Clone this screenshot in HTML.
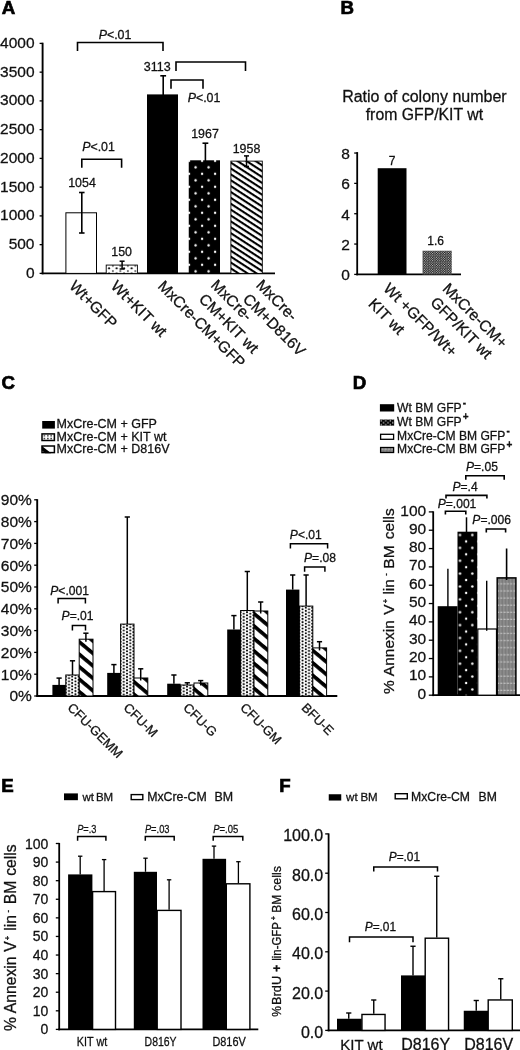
<!DOCTYPE html>
<html lang="en"><head><meta charset="utf-8"><title>Figure</title>
<style>html,body{margin:0;padding:0;background:#fff}svg{display:block;filter:blur(0.4px)}text{font-family:'Liberation Sans', Arial, sans-serif;fill:#111;stroke:#111;stroke-width:.28px}</style>
</head><body>
<svg width="520" height="1050" viewBox="0 0 520 1050">
<defs>
<pattern id="pA2" width="7.5" height="5.2" patternUnits="userSpaceOnUse" x="105.35" y="264.7"><rect width="7.5" height="5.2" fill="#fff"/><circle cx="3.75" cy="3.6" r="1.05" fill="#111"/><circle cx="0" cy="1.15" r="0.95" fill="#333"/><circle cx="7.5" cy="1.15" r="0.95" fill="#333"/><circle cx="0" cy="6.35" r="0.95" fill="#333"/><circle cx="7.5" cy="6.35" r="0.95" fill="#333"/></pattern>
<pattern id="pA4" width="13" height="13" patternUnits="userSpaceOnUse" x="189.1" y="160.8"><rect width="13" height="13" fill="#000"/><circle cx="6.5" cy="6.5" r="1.2" fill="#fff"/><circle cx="0" cy="0" r="1.2" fill="#fff"/><circle cx="13" cy="0" r="1.2" fill="#fff"/><circle cx="0" cy="13" r="1.2" fill="#fff"/><circle cx="13" cy="13" r="1.2" fill="#fff"/></pattern>
<pattern id="pA5" width="4.93" height="4.93" patternUnits="userSpaceOnUse" patternTransform="translate(231 161.5) rotate(33)"><rect width="4.93" height="4.93" fill="#fff"/><rect y="-0.1" width="4.93" height="2.2" fill="#000"/></pattern>
<pattern id="pB2" width="2.4" height="2.4" patternUnits="userSpaceOnUse" x="422.5" y="250.6"><rect width="2.4" height="2.4" fill="#1a1a1a"/><circle cx="0.6" cy="0.6" r="0.55" fill="#e8e8e8"/><circle cx="1.8" cy="1.8" r="0.55" fill="#e8e8e8"/></pattern>
<pattern id="pC2" width="4" height="4" patternUnits="userSpaceOnUse"><rect width="4" height="4" fill="#fff"/><circle cx="1" cy="1" r="0.95" fill="#000"/><circle cx="3" cy="3" r="0.95" fill="#000"/></pattern>
<pattern id="pC2L" width="3.4" height="2.8" patternUnits="userSpaceOnUse" x="42.7" y="434.45"><rect width="3.4" height="2.8" fill="#fff"/><rect x="1.0" y="0.75" width="1.4" height="1.3" fill="#000"/></pattern>
<pattern id="pC3" width="8" height="8" patternUnits="userSpaceOnUse" patternTransform="rotate(45)"><rect width="8" height="8" fill="#fff"/><rect width="8" height="3.6" fill="#000"/></pattern>
<pattern id="pD2" width="12.3" height="12.87" patternUnits="userSpaceOnUse" x="453.85" y="528.57"><rect width="12.3" height="12.87" fill="#000"/><circle cx="6.15" cy="6.43" r="1.2" fill="#fff"/><circle cx="12.3" cy="12.87" r="1.2" fill="#fff"/><circle cx="0" cy="12.87" r="1.2" fill="#fff"/><circle cx="0" cy="0" r="1.2" fill="#fff"/><circle cx="12.3" cy="0" r="1.2" fill="#fff"/></pattern>
<pattern id="pD2L" width="4.6" height="4" patternUnits="userSpaceOnUse" x="380" y="419.5"><rect width="4.6" height="4" fill="#000"/><circle cx="1.2" cy="1.2" r="0.8" fill="#ddd"/><circle cx="3.5" cy="3.2" r="0.8" fill="#ddd"/></pattern>
<pattern id="pD4" width="3.3" height="7.1" patternUnits="userSpaceOnUse" x="496.5" y="580"><rect width="3.3" height="7.1" fill="#7c7c7c"/><rect width="1.6" height="7.1" fill="#8c8c8c"/><rect x="0.4" y="3.3" width="2.2" height="1" fill="#c8c8c8"/></pattern>
<pattern id="pc2_0" width="6.4" height="3.2" patternUnits="userSpaceOnUse" x="65.80" y="675.00"><rect width="6.4" height="3.2" fill="#fff"/><circle cx="0" cy="1.6" r="1.0" fill="#000"/><circle cx="6.4" cy="1.6" r="1.0" fill="#000"/><circle cx="3.2" cy="0" r="1.0" fill="#000"/><circle cx="3.2" cy="3.2" r="1.0" fill="#000"/></pattern>
<pattern id="pc3_0" width="9.54" height="9.54" patternUnits="userSpaceOnUse" patternTransform="translate(79.20 639.40) rotate(40)"><rect width="9.54" height="9.54" fill="#fff"/><rect y="0" width="9.54" height="3.7" fill="#000"/></pattern>
<pattern id="pc2_1" width="6.4" height="3.2" patternUnits="userSpaceOnUse" x="120.60" y="624.10"><rect width="6.4" height="3.2" fill="#fff"/><circle cx="0" cy="1.6" r="1.0" fill="#000"/><circle cx="6.4" cy="1.6" r="1.0" fill="#000"/><circle cx="3.2" cy="0" r="1.0" fill="#000"/><circle cx="3.2" cy="3.2" r="1.0" fill="#000"/></pattern>
<pattern id="pc3_1" width="9.54" height="9.54" patternUnits="userSpaceOnUse" patternTransform="translate(132.50 678.20) rotate(40)"><rect width="9.54" height="9.54" fill="#fff"/><rect y="0" width="9.54" height="3.7" fill="#000"/></pattern>
<pattern id="pc2_2" width="6.4" height="3.2" patternUnits="userSpaceOnUse" x="180.60" y="685.00"><rect width="6.4" height="3.2" fill="#fff"/><circle cx="0" cy="1.6" r="1.0" fill="#000"/><circle cx="6.4" cy="1.6" r="1.0" fill="#000"/><circle cx="3.2" cy="0" r="1.0" fill="#000"/><circle cx="3.2" cy="3.2" r="1.0" fill="#000"/></pattern>
<pattern id="pc3_2" width="9.54" height="9.54" patternUnits="userSpaceOnUse" patternTransform="translate(190.10 683.20) rotate(40)"><rect width="9.54" height="9.54" fill="#fff"/><rect y="0" width="9.54" height="3.7" fill="#000"/></pattern>
<pattern id="pc2_3" width="6.4" height="3.2" patternUnits="userSpaceOnUse" x="240.60" y="610.50"><rect width="6.4" height="3.2" fill="#fff"/><circle cx="0" cy="1.6" r="1.0" fill="#000"/><circle cx="6.4" cy="1.6" r="1.0" fill="#000"/><circle cx="3.2" cy="0" r="1.0" fill="#000"/><circle cx="3.2" cy="3.2" r="1.0" fill="#000"/></pattern>
<pattern id="pc3_3" width="9.54" height="9.54" patternUnits="userSpaceOnUse" patternTransform="translate(254.00 611.20) rotate(40)"><rect width="9.54" height="9.54" fill="#fff"/><rect y="0" width="9.54" height="3.7" fill="#000"/></pattern>
<pattern id="pc2_4" width="6.4" height="3.2" patternUnits="userSpaceOnUse" x="299.40" y="606.10"><rect width="6.4" height="3.2" fill="#fff"/><circle cx="0" cy="1.6" r="1.0" fill="#000"/><circle cx="6.4" cy="1.6" r="1.0" fill="#000"/><circle cx="3.2" cy="0" r="1.0" fill="#000"/><circle cx="3.2" cy="3.2" r="1.0" fill="#000"/></pattern>
<pattern id="pc3_4" width="9.54" height="9.54" patternUnits="userSpaceOnUse" patternTransform="translate(312.80 648.10) rotate(40)"><rect width="9.54" height="9.54" fill="#fff"/><rect y="0" width="9.54" height="3.7" fill="#000"/></pattern>
</defs>
<rect width="520" height="1050" fill="#fff"/>
<text x="1.7" y="13.8" font-size="18.7" text-anchor="start" font-weight="bold" style="stroke:#000;stroke-width:0.7px;fill:#000">A</text>
<text x="340.5" y="13.8" font-size="18.7" text-anchor="start" font-weight="bold" style="stroke:#000;stroke-width:0.7px;fill:#000">B</text>
<text x="1.4" y="389" font-size="18.7" text-anchor="start" font-weight="bold" style="stroke:#000;stroke-width:0.7px;fill:#000">C</text>
<text x="352.85" y="388.8" font-size="18.7" text-anchor="start" font-weight="bold" style="stroke:#000;stroke-width:0.7px;fill:#000">D</text>
<text x="1.3" y="791.8" font-size="18.7" text-anchor="start" font-weight="bold" style="stroke:#000;stroke-width:0.7px;fill:#000">E</text>
<text x="279.2" y="791.6" font-size="18.7" text-anchor="start" font-weight="bold" style="stroke:#000;stroke-width:0.7px;fill:#000">F</text>
<line x1="42.6" y1="42.699999999999996" x2="42.6" y2="274.29999999999995" stroke="#000" stroke-width="1.9"/>
<line x1="41.7" y1="273.4" x2="275" y2="273.4" stroke="#000" stroke-width="1.8"/>
<line x1="39.6" y1="273.4" x2="42.6" y2="273.4" stroke="#000" stroke-width="1.3"/>
<text x="34.5" y="277.79999999999995" font-size="15.5" text-anchor="end">0</text>
<line x1="39.6" y1="244.64999999999998" x2="42.6" y2="244.64999999999998" stroke="#000" stroke-width="1.3"/>
<text x="34.5" y="249.04999999999998" font-size="15.5" text-anchor="end">500</text>
<line x1="39.6" y1="215.89999999999998" x2="42.6" y2="215.89999999999998" stroke="#000" stroke-width="1.3"/>
<text x="34.5" y="220.29999999999998" font-size="15.5" text-anchor="end">1000</text>
<line x1="39.6" y1="187.14999999999998" x2="42.6" y2="187.14999999999998" stroke="#000" stroke-width="1.3"/>
<text x="34.5" y="191.54999999999998" font-size="15.5" text-anchor="end">1500</text>
<line x1="39.6" y1="158.39999999999998" x2="42.6" y2="158.39999999999998" stroke="#000" stroke-width="1.3"/>
<text x="34.5" y="162.79999999999998" font-size="15.5" text-anchor="end">2000</text>
<line x1="39.6" y1="129.64999999999998" x2="42.6" y2="129.64999999999998" stroke="#000" stroke-width="1.3"/>
<text x="34.5" y="134.04999999999998" font-size="15.5" text-anchor="end">2500</text>
<line x1="39.6" y1="100.89999999999998" x2="42.6" y2="100.89999999999998" stroke="#000" stroke-width="1.3"/>
<text x="34.5" y="105.29999999999998" font-size="15.5" text-anchor="end">3000</text>
<line x1="39.6" y1="72.14999999999998" x2="42.6" y2="72.14999999999998" stroke="#000" stroke-width="1.3"/>
<text x="34.5" y="76.54999999999998" font-size="15.5" text-anchor="end">3500</text>
<line x1="39.6" y1="43.39999999999998" x2="42.6" y2="43.39999999999998" stroke="#000" stroke-width="1.3"/>
<text x="34.5" y="47.799999999999976" font-size="15.5" text-anchor="end">4000</text>
<rect x="65.90" y="212.79" width="30.60" height="60.61" fill="#fff" stroke="#000" stroke-width="1"/>
<rect x="106.20" y="265.07" width="31.20" height="8.32" fill="url(#pA2)" stroke="#000" stroke-width="0.9"/>
<rect x="147.00" y="94.40" width="31.00" height="179.00" fill="#000"/>
<rect x="188.75" y="160.30" width="31.25" height="113.10" fill="url(#pA4)"/>
<rect x="230.90" y="161.12" width="31.40" height="112.28" fill="url(#pA5)" stroke="#000" stroke-width="0.9"/>
<line x1="81.8" y1="192.5" x2="81.8" y2="233" stroke="#000" stroke-width="1.6"/>
<line x1="79.05" y1="192.5" x2="84.55" y2="192.5" stroke="#000" stroke-width="1.6"/>
<line x1="79.05" y1="233" x2="84.55" y2="233" stroke="#000" stroke-width="1.6"/>
<line x1="122.1" y1="261.2" x2="122.1" y2="269" stroke="#000" stroke-width="1.5"/>
<line x1="119.6" y1="261.2" x2="124.6" y2="261.2" stroke="#000" stroke-width="1.5"/>
<line x1="119.6" y1="269" x2="124.6" y2="269" stroke="#000" stroke-width="1.5"/>
<line x1="163.2" y1="75.8" x2="163.2" y2="95" stroke="#000" stroke-width="1.6"/>
<line x1="160.29999999999998" y1="75.8" x2="166.1" y2="75.8" stroke="#000" stroke-width="1.6"/>
<line x1="205.4" y1="143.2" x2="205.4" y2="161" stroke="#000" stroke-width="1.6"/>
<line x1="202.5" y1="143.2" x2="208.3" y2="143.2" stroke="#000" stroke-width="1.6"/>
<line x1="246.5" y1="155.9" x2="246.5" y2="166.4" stroke="#000" stroke-width="1.5"/>
<line x1="244.0" y1="155.9" x2="249.0" y2="155.9" stroke="#000" stroke-width="1.5"/>
<line x1="244.0" y1="166.4" x2="249.0" y2="166.4" stroke="#000" stroke-width="1.5"/>
<text x="82" y="186.7" font-size="12.4" text-anchor="middle">1054</text>
<text x="121.6" y="256.3" font-size="12.4" text-anchor="middle">150</text>
<text x="157.2" y="70.5" font-size="12.5" text-anchor="middle">3113</text>
<text x="205" y="138" font-size="12.4" text-anchor="middle">1967</text>
<text x="246.5" y="152.5" font-size="12.4" text-anchor="middle">1958</text>
<path d="M77.5 51V42.5H163V51" fill="none" stroke="#000" stroke-width="1.6"/>
<text x="115" y="38.5" font-size="12.4" text-anchor="middle"><tspan font-style="italic">P</tspan>&lt;.01</text>
<path d="M176 71V62H245.5V71" fill="none" stroke="#000" stroke-width="1.6"/>
<path d="M171 88.75V80H203V88.75" fill="none" stroke="#000" stroke-width="1.6"/>
<text x="204" y="102" font-size="12.4" text-anchor="middle"><tspan font-style="italic">P</tspan>&lt;.01</text>
<path d="M81.8 167.8V159.2H121.6V167.8" fill="none" stroke="#000" stroke-width="1.6"/>
<text x="98.5" y="151.2" font-size="12.4" text-anchor="middle"><tspan font-style="italic">P</tspan>&lt;.01</text>
<text x="68.5" y="287" font-size="15.5" text-anchor="start" transform="rotate(45 68.5 287)">Wt+GFP</text>
<text x="110" y="287" font-size="15.5" text-anchor="start" transform="rotate(45 110 287)">Wt+KIT wt</text>
<text x="157" y="287" font-size="15.5" text-anchor="start" transform="rotate(45 157 287)">MxCre-CM+GFP</text>
<text x="210" y="286" font-size="15.5" text-anchor="start" transform="rotate(45 210 286)">MxCre-</text>
<text x="198" y="300" font-size="15.5" text-anchor="start" transform="rotate(45 198 300)">CM+KIT wt</text>
<text x="255.2" y="286" font-size="15.5" text-anchor="start" transform="rotate(45 255.2 286)">MxCre-</text>
<text x="242" y="300" font-size="15.5" text-anchor="start" transform="rotate(45 242 300)">CM+D816V</text>
<text x="424.4" y="102.1" font-size="16" text-anchor="middle">Ratio of colony number</text>
<text x="424.4" y="119.9" font-size="15.8" text-anchor="middle">from GFP/KIT wt</text>
<line x1="357.2" y1="152.1" x2="357.2" y2="275.29999999999995" stroke="#000" stroke-width="1.8"/>
<line x1="356.3" y1="274.4" x2="461" y2="274.4" stroke="#000" stroke-width="1.8"/>
<line x1="354.2" y1="274.4" x2="357.2" y2="274.4" stroke="#000" stroke-width="1.3"/>
<text x="349.8" y="280.2" font-size="15.5" text-anchor="end">0</text>
<line x1="354.2" y1="244.05999999999997" x2="357.2" y2="244.05999999999997" stroke="#000" stroke-width="1.3"/>
<text x="349.8" y="249.85999999999999" font-size="15.5" text-anchor="end">2</text>
<line x1="354.2" y1="213.71999999999997" x2="357.2" y2="213.71999999999997" stroke="#000" stroke-width="1.3"/>
<text x="349.8" y="219.51999999999998" font-size="15.5" text-anchor="end">4</text>
<line x1="354.2" y1="183.38" x2="357.2" y2="183.38" stroke="#000" stroke-width="1.3"/>
<text x="349.8" y="189.18" font-size="15.5" text-anchor="end">6</text>
<line x1="354.2" y1="153.03999999999996" x2="357.2" y2="153.03999999999996" stroke="#000" stroke-width="1.3"/>
<text x="349.8" y="158.83999999999997" font-size="15.5" text-anchor="end">8</text>
<rect x="377.70" y="168.21" width="28.80" height="106.19" fill="#000"/>
<rect x="422.50" y="250.70" width="29.30" height="23.70" fill="url(#pB2)"/>
<text x="392" y="164.5" font-size="12" text-anchor="middle">7</text>
<text x="435.6" y="244.6" font-size="12" text-anchor="middle">1.6</text>
<text x="382.6" y="289.5" font-size="15.5" text-anchor="start" transform="rotate(45 382.6 289.5)">Wt +GFP/Wt+</text>
<text x="367.5" y="304.8" font-size="15.5" text-anchor="start" transform="rotate(45 367.5 304.8)">KIT wt</text>
<text x="441.7" y="289.5" font-size="15.5" text-anchor="start" transform="rotate(45 441.7 289.5)">MxCre-CM+</text>
<text x="429.4" y="303.3" font-size="15.5" text-anchor="start" transform="rotate(45 429.4 303.3)">GFP/KIT wt</text>
<line x1="37.2" y1="499.2" x2="37.2" y2="696.9" stroke="#000" stroke-width="1.9"/>
<line x1="36.300000000000004" y1="696.0" x2="337.3" y2="696.0" stroke="#000" stroke-width="1.8"/>
<line x1="34.2" y1="696.0" x2="37.2" y2="696.0" stroke="#000" stroke-width="1.3"/>
<text x="31.9" y="701.4" font-size="15.5" text-anchor="end">0%</text>
<line x1="34.2" y1="674.2" x2="37.2" y2="674.2" stroke="#000" stroke-width="1.3"/>
<text x="31.9" y="679.6" font-size="15.5" text-anchor="end">10%</text>
<line x1="34.2" y1="652.4" x2="37.2" y2="652.4" stroke="#000" stroke-width="1.3"/>
<text x="31.9" y="657.8" font-size="15.5" text-anchor="end">20%</text>
<line x1="34.2" y1="630.6" x2="37.2" y2="630.6" stroke="#000" stroke-width="1.3"/>
<text x="31.9" y="636.0" font-size="15.5" text-anchor="end">30%</text>
<line x1="34.2" y1="608.8" x2="37.2" y2="608.8" stroke="#000" stroke-width="1.3"/>
<text x="31.9" y="614.1999999999999" font-size="15.5" text-anchor="end">40%</text>
<line x1="34.2" y1="587.0" x2="37.2" y2="587.0" stroke="#000" stroke-width="1.3"/>
<text x="31.9" y="592.4" font-size="15.5" text-anchor="end">50%</text>
<line x1="34.2" y1="565.2" x2="37.2" y2="565.2" stroke="#000" stroke-width="1.3"/>
<text x="31.9" y="570.6" font-size="15.5" text-anchor="end">60%</text>
<line x1="34.2" y1="543.4" x2="37.2" y2="543.4" stroke="#000" stroke-width="1.3"/>
<text x="31.9" y="548.8" font-size="15.5" text-anchor="end">70%</text>
<line x1="34.2" y1="521.6" x2="37.2" y2="521.6" stroke="#000" stroke-width="1.3"/>
<text x="31.9" y="527.0" font-size="15.5" text-anchor="end">80%</text>
<line x1="34.2" y1="499.79999999999995" x2="37.2" y2="499.79999999999995" stroke="#000" stroke-width="1.3"/>
<text x="31.9" y="505.19999999999993" font-size="15.5" text-anchor="end">90%</text>
<rect x="52.40" y="684.90" width="13.40" height="11.10" fill="#000"/>
<line x1="59.1" y1="678.1" x2="59.1" y2="684.9" stroke="#000" stroke-width="1.5"/>
<line x1="56.5" y1="678.1" x2="61.7" y2="678.1" stroke="#000" stroke-width="1.5"/>
<rect x="65.80" y="675.00" width="13.40" height="21.00" fill="url(#pc2_0)" stroke="#000" stroke-width="1"/>
<line x1="72.5" y1="660.8" x2="72.5" y2="675" stroke="#000" stroke-width="1.5"/>
<line x1="69.9" y1="660.8" x2="75.1" y2="660.8" stroke="#000" stroke-width="1.5"/>
<rect x="79.20" y="639.20" width="13.80" height="56.80" fill="url(#pc3_0)" stroke="#000" stroke-width="1"/>
<line x1="85.9" y1="633.2" x2="85.9" y2="641.7" stroke="#000" stroke-width="1.5"/>
<line x1="83.30000000000001" y1="633.2" x2="88.5" y2="633.2" stroke="#000" stroke-width="1.5"/>
<rect x="107.20" y="672.90" width="13.40" height="23.10" fill="#000"/>
<line x1="113.9" y1="664.6" x2="113.9" y2="672.9" stroke="#000" stroke-width="1.5"/>
<line x1="111.30000000000001" y1="664.6" x2="116.5" y2="664.6" stroke="#000" stroke-width="1.5"/>
<rect x="120.60" y="624.10" width="13.40" height="71.90" fill="url(#pc2_1)" stroke="#000" stroke-width="1"/>
<line x1="127.30000000000001" y1="517" x2="127.30000000000001" y2="624.1" stroke="#000" stroke-width="1.5"/>
<line x1="124.70000000000002" y1="517" x2="129.9" y2="517" stroke="#000" stroke-width="1.5"/>
<rect x="134.00" y="678.00" width="13.80" height="18.00" fill="url(#pc3_1)" stroke="#000" stroke-width="1"/>
<line x1="140.7" y1="668.8" x2="140.7" y2="680.5" stroke="#000" stroke-width="1.5"/>
<line x1="138.1" y1="668.8" x2="143.29999999999998" y2="668.8" stroke="#000" stroke-width="1.5"/>
<rect x="167.20" y="683.70" width="13.40" height="12.30" fill="#000"/>
<line x1="173.89999999999998" y1="675" x2="173.89999999999998" y2="683.7" stroke="#000" stroke-width="1.5"/>
<line x1="171.29999999999998" y1="675" x2="176.49999999999997" y2="675" stroke="#000" stroke-width="1.5"/>
<rect x="180.60" y="685.00" width="13.40" height="11.00" fill="url(#pc2_2)" stroke="#000" stroke-width="1"/>
<line x1="187.29999999999998" y1="682.8" x2="187.29999999999998" y2="685" stroke="#000" stroke-width="1.5"/>
<line x1="184.7" y1="682.8" x2="189.89999999999998" y2="682.8" stroke="#000" stroke-width="1.5"/>
<rect x="194.00" y="683.00" width="13.80" height="13.00" fill="url(#pc3_2)" stroke="#000" stroke-width="1"/>
<line x1="200.7" y1="680.6" x2="200.7" y2="685.5" stroke="#000" stroke-width="1.5"/>
<line x1="198.1" y1="680.6" x2="203.29999999999998" y2="680.6" stroke="#000" stroke-width="1.5"/>
<rect x="227.20" y="629.50" width="13.40" height="66.50" fill="#000"/>
<line x1="233.89999999999998" y1="615.6" x2="233.89999999999998" y2="629.5" stroke="#000" stroke-width="1.5"/>
<line x1="231.29999999999998" y1="615.6" x2="236.49999999999997" y2="615.6" stroke="#000" stroke-width="1.5"/>
<rect x="240.60" y="610.50" width="13.40" height="85.50" fill="url(#pc2_3)" stroke="#000" stroke-width="1"/>
<line x1="247.29999999999998" y1="571.5" x2="247.29999999999998" y2="610.5" stroke="#000" stroke-width="1.5"/>
<line x1="244.7" y1="571.5" x2="249.89999999999998" y2="571.5" stroke="#000" stroke-width="1.5"/>
<rect x="254.00" y="611.00" width="13.80" height="85.00" fill="url(#pc3_3)" stroke="#000" stroke-width="1"/>
<line x1="260.7" y1="602" x2="260.7" y2="613.5" stroke="#000" stroke-width="1.5"/>
<line x1="258.09999999999997" y1="602" x2="263.3" y2="602" stroke="#000" stroke-width="1.5"/>
<rect x="286.00" y="589.60" width="13.40" height="106.40" fill="#000"/>
<line x1="292.7" y1="575" x2="292.7" y2="589.6" stroke="#000" stroke-width="1.5"/>
<line x1="290.09999999999997" y1="575" x2="295.3" y2="575" stroke="#000" stroke-width="1.5"/>
<rect x="299.40" y="606.10" width="13.40" height="89.90" fill="url(#pc2_4)" stroke="#000" stroke-width="1"/>
<line x1="306.09999999999997" y1="575" x2="306.09999999999997" y2="606.1" stroke="#000" stroke-width="1.5"/>
<line x1="303.49999999999994" y1="575" x2="308.7" y2="575" stroke="#000" stroke-width="1.5"/>
<rect x="312.80" y="647.90" width="13.80" height="48.10" fill="url(#pc3_4)" stroke="#000" stroke-width="1"/>
<line x1="319.5" y1="641.7" x2="319.5" y2="650.4" stroke="#000" stroke-width="1.5"/>
<line x1="316.9" y1="641.7" x2="322.1" y2="641.7" stroke="#000" stroke-width="1.5"/>
<path d="M58.1 603.4V598.6H85.4V603.4" fill="none" stroke="#000" stroke-width="1.5"/>
<text x="69.6" y="595.4" font-size="12.1" text-anchor="middle"><tspan font-style="italic">P</tspan>&lt;.001</text>
<path d="M72.4 630.5V625.6H85.5V630.5" fill="none" stroke="#000" stroke-width="1.5"/>
<text x="77.6" y="620.3" font-size="12.1" text-anchor="middle"><tspan font-style="italic">P</tspan>=.01</text>
<path d="M290.4 548.6V543.8H327.6V548.6" fill="none" stroke="#000" stroke-width="1.5"/>
<text x="305.8" y="538.9" font-size="12.1" text-anchor="middle"><tspan font-style="italic">P</tspan>&lt;.01</text>
<path d="M304.6 571.8V566.9H324.9V571.8" fill="none" stroke="#000" stroke-width="1.5"/>
<text x="320" y="562.4" font-size="12.1" text-anchor="middle"><tspan font-style="italic">P</tspan>=.08</text>
<rect x="42.20" y="421.00" width="12.70" height="7.60" fill="#000"/>
<rect x="42.00" y="433.90" width="12.40" height="6.60" fill="url(#pC2L)" stroke="#000" stroke-width="1.5"/>
<rect x="42.00" y="446.00" width="12.40" height="6.60" fill="#fff" stroke="#000" stroke-width="1.5"/>
<path d="M41.9 445.9L51.2 453.3H45.2L41.9 450.6Z" fill="#000"/>
<text x="56.6" y="428.3" font-size="12.5" text-anchor="start">MxCre-CM + GFP</text>
<text x="56.6" y="440.5" font-size="12.5" text-anchor="start">MxCre-CM + KIT wt</text>
<text x="56.6" y="453" font-size="12.5" text-anchor="start">MxCre-CM + D816V</text>
<text x="66.8" y="708.4" font-size="13" text-anchor="start" transform="rotate(45 66.8 708.4)">CFU-GEMM</text>
<text x="122.8" y="708.4" font-size="13" text-anchor="start" transform="rotate(45 122.8 708.4)">CFU-M</text>
<text x="182.6" y="708.4" font-size="13" text-anchor="start" transform="rotate(45 182.6 708.4)">CFU-G</text>
<text x="239.5" y="708.4" font-size="13" text-anchor="start" transform="rotate(45 239.5 708.4)">CFU-GM</text>
<text x="300.8" y="708.4" font-size="13" text-anchor="start" transform="rotate(45 300.8 708.4)">BFU-E</text>
<line x1="433.2" y1="511.29999999999995" x2="433.2" y2="696.1" stroke="#000" stroke-width="1.8"/>
<line x1="432.3" y1="695.2" x2="520" y2="695.2" stroke="#000" stroke-width="1.8"/>
<line x1="428.8" y1="695.2" x2="433.2" y2="695.2" stroke="#000" stroke-width="1.3"/>
<text x="426.2" y="698.8000000000001" font-size="15.5" text-anchor="end">0</text>
<line x1="428.8" y1="676.87" x2="433.2" y2="676.87" stroke="#000" stroke-width="1.3"/>
<text x="426.2" y="680.47" font-size="15.5" text-anchor="end">10</text>
<line x1="428.8" y1="658.5400000000001" x2="433.2" y2="658.5400000000001" stroke="#000" stroke-width="1.3"/>
<text x="426.2" y="662.1400000000001" font-size="15.5" text-anchor="end">20</text>
<line x1="428.8" y1="640.21" x2="433.2" y2="640.21" stroke="#000" stroke-width="1.3"/>
<text x="426.2" y="643.8100000000001" font-size="15.5" text-anchor="end">30</text>
<line x1="428.8" y1="621.8800000000001" x2="433.2" y2="621.8800000000001" stroke="#000" stroke-width="1.3"/>
<text x="426.2" y="625.4800000000001" font-size="15.5" text-anchor="end">40</text>
<line x1="428.8" y1="603.5500000000001" x2="433.2" y2="603.5500000000001" stroke="#000" stroke-width="1.3"/>
<text x="426.2" y="607.1500000000001" font-size="15.5" text-anchor="end">50</text>
<line x1="428.8" y1="585.22" x2="433.2" y2="585.22" stroke="#000" stroke-width="1.3"/>
<text x="426.2" y="588.82" font-size="15.5" text-anchor="end">60</text>
<line x1="428.8" y1="566.8900000000001" x2="433.2" y2="566.8900000000001" stroke="#000" stroke-width="1.3"/>
<text x="426.2" y="570.4900000000001" font-size="15.5" text-anchor="end">70</text>
<line x1="428.8" y1="548.5600000000001" x2="433.2" y2="548.5600000000001" stroke="#000" stroke-width="1.3"/>
<text x="426.2" y="552.1600000000001" font-size="15.5" text-anchor="end">80</text>
<line x1="428.8" y1="530.23" x2="433.2" y2="530.23" stroke="#000" stroke-width="1.3"/>
<text x="426.2" y="533.83" font-size="15.5" text-anchor="end">90</text>
<line x1="428.8" y1="511.9000000000001" x2="433.2" y2="511.9000000000001" stroke="#000" stroke-width="1.3"/>
<text x="426.2" y="515.5000000000001" font-size="15.5" text-anchor="end">100</text>
<rect x="437.70" y="606.20" width="19.80" height="89.00" fill="#000"/>
<rect x="457.50" y="531.70" width="19.80" height="163.50" fill="url(#pD2)"/>
<rect x="477.80" y="629.00" width="18.70" height="66.20" fill="#fff" stroke="#000" stroke-width="1.2"/>
<rect x="497.20" y="577.90" width="18.70" height="117.30" fill="url(#pD4)" stroke="#000" stroke-width="1.5"/>
<line x1="447.9" y1="568.8" x2="447.9" y2="607" stroke="#000" stroke-width="1.4"/>
<line x1="466.5" y1="517.3" x2="466.5" y2="533" stroke="#000" stroke-width="1.5"/>
<line x1="486.7" y1="580.8" x2="486.7" y2="630.8" stroke="#000" stroke-width="1.4"/>
<line x1="506.6" y1="548.5" x2="506.6" y2="580" stroke="#000" stroke-width="1.6"/>
<text x="481.9" y="471.3" font-size="12.1" text-anchor="middle"><tspan font-style="italic">P</tspan>=.05</text>
<path d="M465.8 479.8V475.8H504.2V479.8" fill="none" stroke="#000" stroke-width="1.6"/>
<text x="465" y="490.6" font-size="12.1" text-anchor="middle"><tspan font-style="italic">P</tspan>=.4</text>
<path d="M446 498.6V495.4H486.9V498.6" fill="none" stroke="#000" stroke-width="1.6"/>
<text x="457" y="507.9" font-size="12.1" text-anchor="middle"><tspan font-style="italic">P</tspan>=.001</text>
<path d="M445.4 514.6V511.3H465.8V514.6" fill="none" stroke="#000" stroke-width="1.6"/>
<text x="491.7" y="524.2" font-size="12.1" text-anchor="middle"><tspan font-style="italic">P</tspan>=.006</text>
<path d="M486.3 532.4V529H505.6V532.4" fill="none" stroke="#000" stroke-width="1.6"/>
<rect x="379.90" y="404.20" width="14.30" height="7.30" fill="#000"/>
<rect x="379.90" y="419.50" width="14.30" height="6.20" fill="url(#pD2L)"/>
<rect x="380.60" y="434.30" width="13.00" height="5.00" fill="#fff" stroke="#000" stroke-width="1.3"/>
<rect x="380.60" y="447.50" width="13.00" height="5.00" fill="url(#pD4)" stroke="#000" stroke-width="1.3"/>
<text x="397.1" y="411.5" font-size="12.1">Wt BM GFP<tspan dx="1.2" dy="-5.8" font-size="10" font-weight="bold">-</tspan></text>
<text x="397.1" y="426" font-size="12.1">Wt BM GFP<tspan dx="1.2" dy="-5.8" font-size="10" font-weight="bold">+</tspan></text>
<text x="397.1" y="439.8" font-size="12.1">MxCre-CM BM GFP<tspan dx="1.2" dy="-5.8" font-size="10" font-weight="bold">-</tspan></text>
<text x="397.1" y="453.4" font-size="12.1">MxCre-CM BM GFP<tspan dx="1.2" dy="-5.8" font-size="10" font-weight="bold">+</tspan></text>
<g transform="translate(394 693.2) rotate(-90)" font-size="15.50">
<text x="-0.90" y="0">%</text>
<text x="17.00" y="0">Annexin</text>
<text x="78.40" y="0">V</text>
<text x="98.60" y="0">lin</text>
<text x="124.50" y="0">BM</text>
<text x="153.90" y="0">cells</text>
<text x="92.20" y="-6" font-size="7.5" text-anchor="middle" font-weight="bold">+</text>
<text x="118.70" y="-5.9" font-size="7.5" text-anchor="middle" font-weight="bold">-</text>
</g>
<line x1="59.2" y1="842.9" x2="59.2" y2="1030.3000000000002" stroke="#000" stroke-width="1.8"/>
<line x1="58.300000000000004" y1="1029.4" x2="258.3" y2="1029.4" stroke="#000" stroke-width="1.8"/>
<line x1="55.800000000000004" y1="1029.4" x2="59.2" y2="1029.4" stroke="#000" stroke-width="1.3"/>
<text x="48.4" y="1034.4" font-size="14" text-anchor="end">0</text>
<line x1="55.800000000000004" y1="1010.8100000000001" x2="59.2" y2="1010.8100000000001" stroke="#000" stroke-width="1.3"/>
<text x="48.4" y="1015.8100000000001" font-size="14" text-anchor="end">10</text>
<line x1="55.800000000000004" y1="992.2200000000001" x2="59.2" y2="992.2200000000001" stroke="#000" stroke-width="1.3"/>
<text x="48.4" y="997.2200000000001" font-size="14" text-anchor="end">20</text>
<line x1="55.800000000000004" y1="973.6300000000001" x2="59.2" y2="973.6300000000001" stroke="#000" stroke-width="1.3"/>
<text x="48.4" y="978.6300000000001" font-size="14" text-anchor="end">30</text>
<line x1="55.800000000000004" y1="955.0400000000001" x2="59.2" y2="955.0400000000001" stroke="#000" stroke-width="1.3"/>
<text x="48.4" y="960.0400000000001" font-size="14" text-anchor="end">40</text>
<line x1="55.800000000000004" y1="936.45" x2="59.2" y2="936.45" stroke="#000" stroke-width="1.3"/>
<text x="48.4" y="941.45" font-size="14" text-anchor="end">50</text>
<line x1="55.800000000000004" y1="917.8600000000001" x2="59.2" y2="917.8600000000001" stroke="#000" stroke-width="1.3"/>
<text x="48.4" y="922.8600000000001" font-size="14" text-anchor="end">60</text>
<line x1="55.800000000000004" y1="899.2700000000001" x2="59.2" y2="899.2700000000001" stroke="#000" stroke-width="1.3"/>
<text x="48.4" y="904.2700000000001" font-size="14" text-anchor="end">70</text>
<line x1="55.800000000000004" y1="880.6800000000001" x2="59.2" y2="880.6800000000001" stroke="#000" stroke-width="1.3"/>
<text x="48.4" y="885.6800000000001" font-size="14" text-anchor="end">80</text>
<line x1="55.800000000000004" y1="862.0900000000001" x2="59.2" y2="862.0900000000001" stroke="#000" stroke-width="1.3"/>
<text x="48.4" y="867.0900000000001" font-size="14" text-anchor="end">90</text>
<line x1="55.800000000000004" y1="843.5000000000001" x2="59.2" y2="843.5000000000001" stroke="#000" stroke-width="1.3"/>
<text x="48.4" y="848.5000000000001" font-size="14" text-anchor="end">100</text>
<rect x="68.10" y="874.40" width="24.30" height="155.00" fill="#000"/>
<rect x="92.60" y="891.60" width="22.90" height="137.80" fill="#fff" stroke="#000" stroke-width="1.4"/>
<line x1="80.2" y1="856.2" x2="80.2" y2="874.4" stroke="#000" stroke-width="1.3"/>
<line x1="78.0" y1="856.2" x2="82.4" y2="856.2" stroke="#000" stroke-width="1.3"/>
<line x1="104.1" y1="859.6" x2="104.1" y2="890.9" stroke="#000" stroke-width="1.3"/>
<line x1="101.89999999999999" y1="859.6" x2="106.3" y2="859.6" stroke="#000" stroke-width="1.3"/>
<rect x="133.80" y="871.80" width="23.20" height="157.60" fill="#000"/>
<rect x="157.20" y="910.40" width="23.80" height="119.00" fill="#fff" stroke="#000" stroke-width="1.4"/>
<line x1="145.5" y1="858.2" x2="145.5" y2="871.8" stroke="#000" stroke-width="1.3"/>
<line x1="143.3" y1="858.2" x2="147.7" y2="858.2" stroke="#000" stroke-width="1.3"/>
<line x1="169.1" y1="879.8" x2="169.1" y2="909.7" stroke="#000" stroke-width="1.3"/>
<line x1="166.9" y1="879.8" x2="171.29999999999998" y2="879.8" stroke="#000" stroke-width="1.3"/>
<rect x="202.50" y="858.80" width="23.60" height="170.60" fill="#000"/>
<rect x="226.30" y="883.80" width="23.60" height="145.60" fill="#fff" stroke="#000" stroke-width="1.4"/>
<line x1="214" y1="846.1" x2="214" y2="858.8" stroke="#000" stroke-width="1.3"/>
<line x1="211.8" y1="846.1" x2="216.2" y2="846.1" stroke="#000" stroke-width="1.3"/>
<line x1="238.4" y1="861.7" x2="238.4" y2="883.1" stroke="#000" stroke-width="1.3"/>
<line x1="236.20000000000002" y1="861.7" x2="240.6" y2="861.7" stroke="#000" stroke-width="1.3"/>
<path d="M77.6 840.8V836.5H105.9V840.8" fill="none" stroke="#000" stroke-width="1.5"/>
<text x="77.2" y="832.9" font-size="11.5" text-anchor="start" textLength="19.2" lengthAdjust="spacingAndGlyphs"><tspan font-style="italic">P</tspan>=.3</text>
<path d="M145.3 840.8V836.5H174.2V840.8" fill="none" stroke="#000" stroke-width="1.5"/>
<text x="144.9" y="832.9" font-size="11.5" text-anchor="start" textLength="24.6" lengthAdjust="spacingAndGlyphs"><tspan font-style="italic">P</tspan>=.03</text>
<path d="M213.2 840.8V836.5H242.8V840.8" fill="none" stroke="#000" stroke-width="1.5"/>
<text x="213.2" y="832.9" font-size="11.5" text-anchor="start" textLength="25" lengthAdjust="spacingAndGlyphs"><tspan font-style="italic">P</tspan>=.05</text>
<rect x="64.00" y="793.40" width="13.90" height="6.80" fill="#000"/>
<text x="82.4" y="801.1" font-size="11.5" text-anchor="start">wt</text>
<text x="95.9" y="801.1" font-size="11.5" text-anchor="start">BM</text>
<rect x="131.20" y="794.60" width="11.60" height="5.00" fill="#fff" stroke="#000" stroke-width="1.4"/>
<text x="147.2" y="801.2" font-size="12" text-anchor="start" textLength="59.5" lengthAdjust="spacingAndGlyphs">MxCre-CM</text>
<text x="214.4" y="801.2" font-size="12" text-anchor="start" textLength="18.6" lengthAdjust="spacingAndGlyphs">BM</text>
<text x="76.8" y="1046.3" font-size="12.5" text-anchor="start" textLength="30.5" lengthAdjust="spacingAndGlyphs">KIT wt</text>
<text x="144.6" y="1046.3" font-size="12.5" text-anchor="start" textLength="32" lengthAdjust="spacingAndGlyphs">D816Y</text>
<text x="212.4" y="1046.3" font-size="12.5" text-anchor="start" textLength="33.4" lengthAdjust="spacingAndGlyphs">D816V</text>
<g transform="translate(16.2 1030.2) rotate(-90)" font-size="15.70">
<text x="-0.90" y="0">%</text>
<text x="17.00" y="0">Annexin</text>
<text x="78.40" y="0">V</text>
<text x="99.40" y="0">lin</text>
<text x="126.00" y="0">BM</text>
<text x="154.40" y="0">cells</text>
<text x="92.20" y="-6" font-size="7.5" text-anchor="middle" font-weight="bold">+</text>
<text x="119.00" y="-5.9" font-size="7.5" text-anchor="middle" font-weight="bold">-</text>
</g>
<line x1="328.6" y1="833.4" x2="328.6" y2="1031.3000000000002" stroke="#000" stroke-width="1.8"/>
<line x1="327.70000000000005" y1="1030.4" x2="520" y2="1030.4" stroke="#000" stroke-width="1.8"/>
<line x1="325.20000000000005" y1="1030.4" x2="328.6" y2="1030.4" stroke="#000" stroke-width="1.3"/>
<text x="323.2" y="1037.8000000000002" font-size="16" text-anchor="end">0.0</text>
<line x1="325.20000000000005" y1="991.1000000000001" x2="328.6" y2="991.1000000000001" stroke="#000" stroke-width="1.3"/>
<text x="323.2" y="998.5000000000001" font-size="16" text-anchor="end">20.0</text>
<line x1="325.20000000000005" y1="951.8000000000001" x2="328.6" y2="951.8000000000001" stroke="#000" stroke-width="1.3"/>
<text x="323.2" y="959.2" font-size="16" text-anchor="end">40.0</text>
<line x1="325.20000000000005" y1="912.5000000000001" x2="328.6" y2="912.5000000000001" stroke="#000" stroke-width="1.3"/>
<text x="323.2" y="919.9000000000001" font-size="16" text-anchor="end">60.0</text>
<line x1="325.20000000000005" y1="873.2" x2="328.6" y2="873.2" stroke="#000" stroke-width="1.3"/>
<text x="323.2" y="880.6" font-size="16" text-anchor="end">80.0</text>
<line x1="325.20000000000005" y1="833.9000000000001" x2="328.6" y2="833.9000000000001" stroke="#000" stroke-width="1.3"/>
<text x="323.2" y="841.3000000000001" font-size="16" text-anchor="end">100.0</text>
<rect x="337.00" y="1018.75" width="24.75" height="11.65" fill="#000"/>
<rect x="361.95" y="1014.45" width="23.10" height="15.95" fill="#fff" stroke="#000" stroke-width="1.4"/>
<line x1="348.75" y1="1013" x2="348.75" y2="1018.75" stroke="#000" stroke-width="1.4"/>
<line x1="346.15" y1="1013" x2="351.35" y2="1013" stroke="#000" stroke-width="1.4"/>
<line x1="373.75" y1="1000" x2="373.75" y2="1013.75" stroke="#000" stroke-width="1.4"/>
<line x1="371.15" y1="1000" x2="376.35" y2="1000" stroke="#000" stroke-width="1.4"/>
<rect x="401.00" y="975.40" width="24.00" height="55.00" fill="#000"/>
<rect x="425.20" y="938.20" width="23.35" height="92.20" fill="#fff" stroke="#000" stroke-width="1.4"/>
<line x1="413" y1="946.25" x2="413" y2="975.4" stroke="#000" stroke-width="1.4"/>
<line x1="410.4" y1="946.25" x2="415.6" y2="946.25" stroke="#000" stroke-width="1.4"/>
<line x1="436.75" y1="876.25" x2="436.75" y2="937.5" stroke="#000" stroke-width="1.4"/>
<line x1="434.15" y1="876.25" x2="439.35" y2="876.25" stroke="#000" stroke-width="1.4"/>
<rect x="463.75" y="1010.75" width="24.25" height="19.65" fill="#000"/>
<rect x="488.20" y="999.95" width="24.10" height="30.45" fill="#fff" stroke="#000" stroke-width="1.4"/>
<line x1="476.25" y1="1000.5" x2="476.25" y2="1010.75" stroke="#000" stroke-width="1.4"/>
<line x1="473.65" y1="1000.5" x2="478.85" y2="1000.5" stroke="#000" stroke-width="1.4"/>
<line x1="500.75" y1="978.75" x2="500.75" y2="999.25" stroke="#000" stroke-width="1.4"/>
<line x1="498.15" y1="978.75" x2="503.35" y2="978.75" stroke="#000" stroke-width="1.4"/>
<path d="M373.75 871.5V867H437.5V871.5" fill="none" stroke="#000" stroke-width="1.5"/>
<text x="404.4" y="860.5" font-size="11.9" text-anchor="middle"><tspan font-style="italic">P</tspan>=.01</text>
<path d="M349.5 942.2V937H413V942.2" fill="none" stroke="#000" stroke-width="1.5"/>
<text x="380.4" y="931.25" font-size="11.9" text-anchor="middle"><tspan font-style="italic">P</tspan>=.01</text>
<rect x="328.75" y="794.25" width="12.50" height="6.30" fill="#000"/>
<text x="346.1" y="801.25" font-size="11.5" text-anchor="start">wt</text>
<text x="360.4" y="801.25" font-size="11.5" text-anchor="start">BM</text>
<rect x="395.20" y="793.70" width="12.10" height="5.10" fill="#fff" stroke="#000" stroke-width="1.4"/>
<text x="411.1" y="801.25" font-size="12.2" text-anchor="start">MxCre-CM</text>
<text x="478.6" y="801.25" font-size="12.2" text-anchor="start">BM</text>
<text x="340.3" y="1050.2" font-size="15.5" text-anchor="start" textLength="42.3" lengthAdjust="spacingAndGlyphs">KIT wt</text>
<text x="401.2" y="1050.2" font-size="16" text-anchor="start">D816Y</text>
<text x="464.2" y="1050.2" font-size="16" text-anchor="start">D816V</text>
<g transform="translate(280.7 1016.1) rotate(-90)" font-size="12">
<text x="-0.7" y="0">%</text>
<text x="11.2" y="0" textLength="29" lengthAdjust="spacingAndGlyphs">BrdU</text>
<text x="44.3" y="0" font-weight="bold">+</text>
<text x="55.4" y="0" textLength="38.6" lengthAdjust="spacingAndGlyphs">lin-GFP</text>
<text x="103.4" y="0">BM</text>
<text x="125.2" y="0" textLength="24.8" lengthAdjust="spacingAndGlyphs">cells</text>
<text x="97.8" y="-4.6" font-size="7" text-anchor="middle" font-weight="bold">+</text>
</g>
</svg></body></html>
